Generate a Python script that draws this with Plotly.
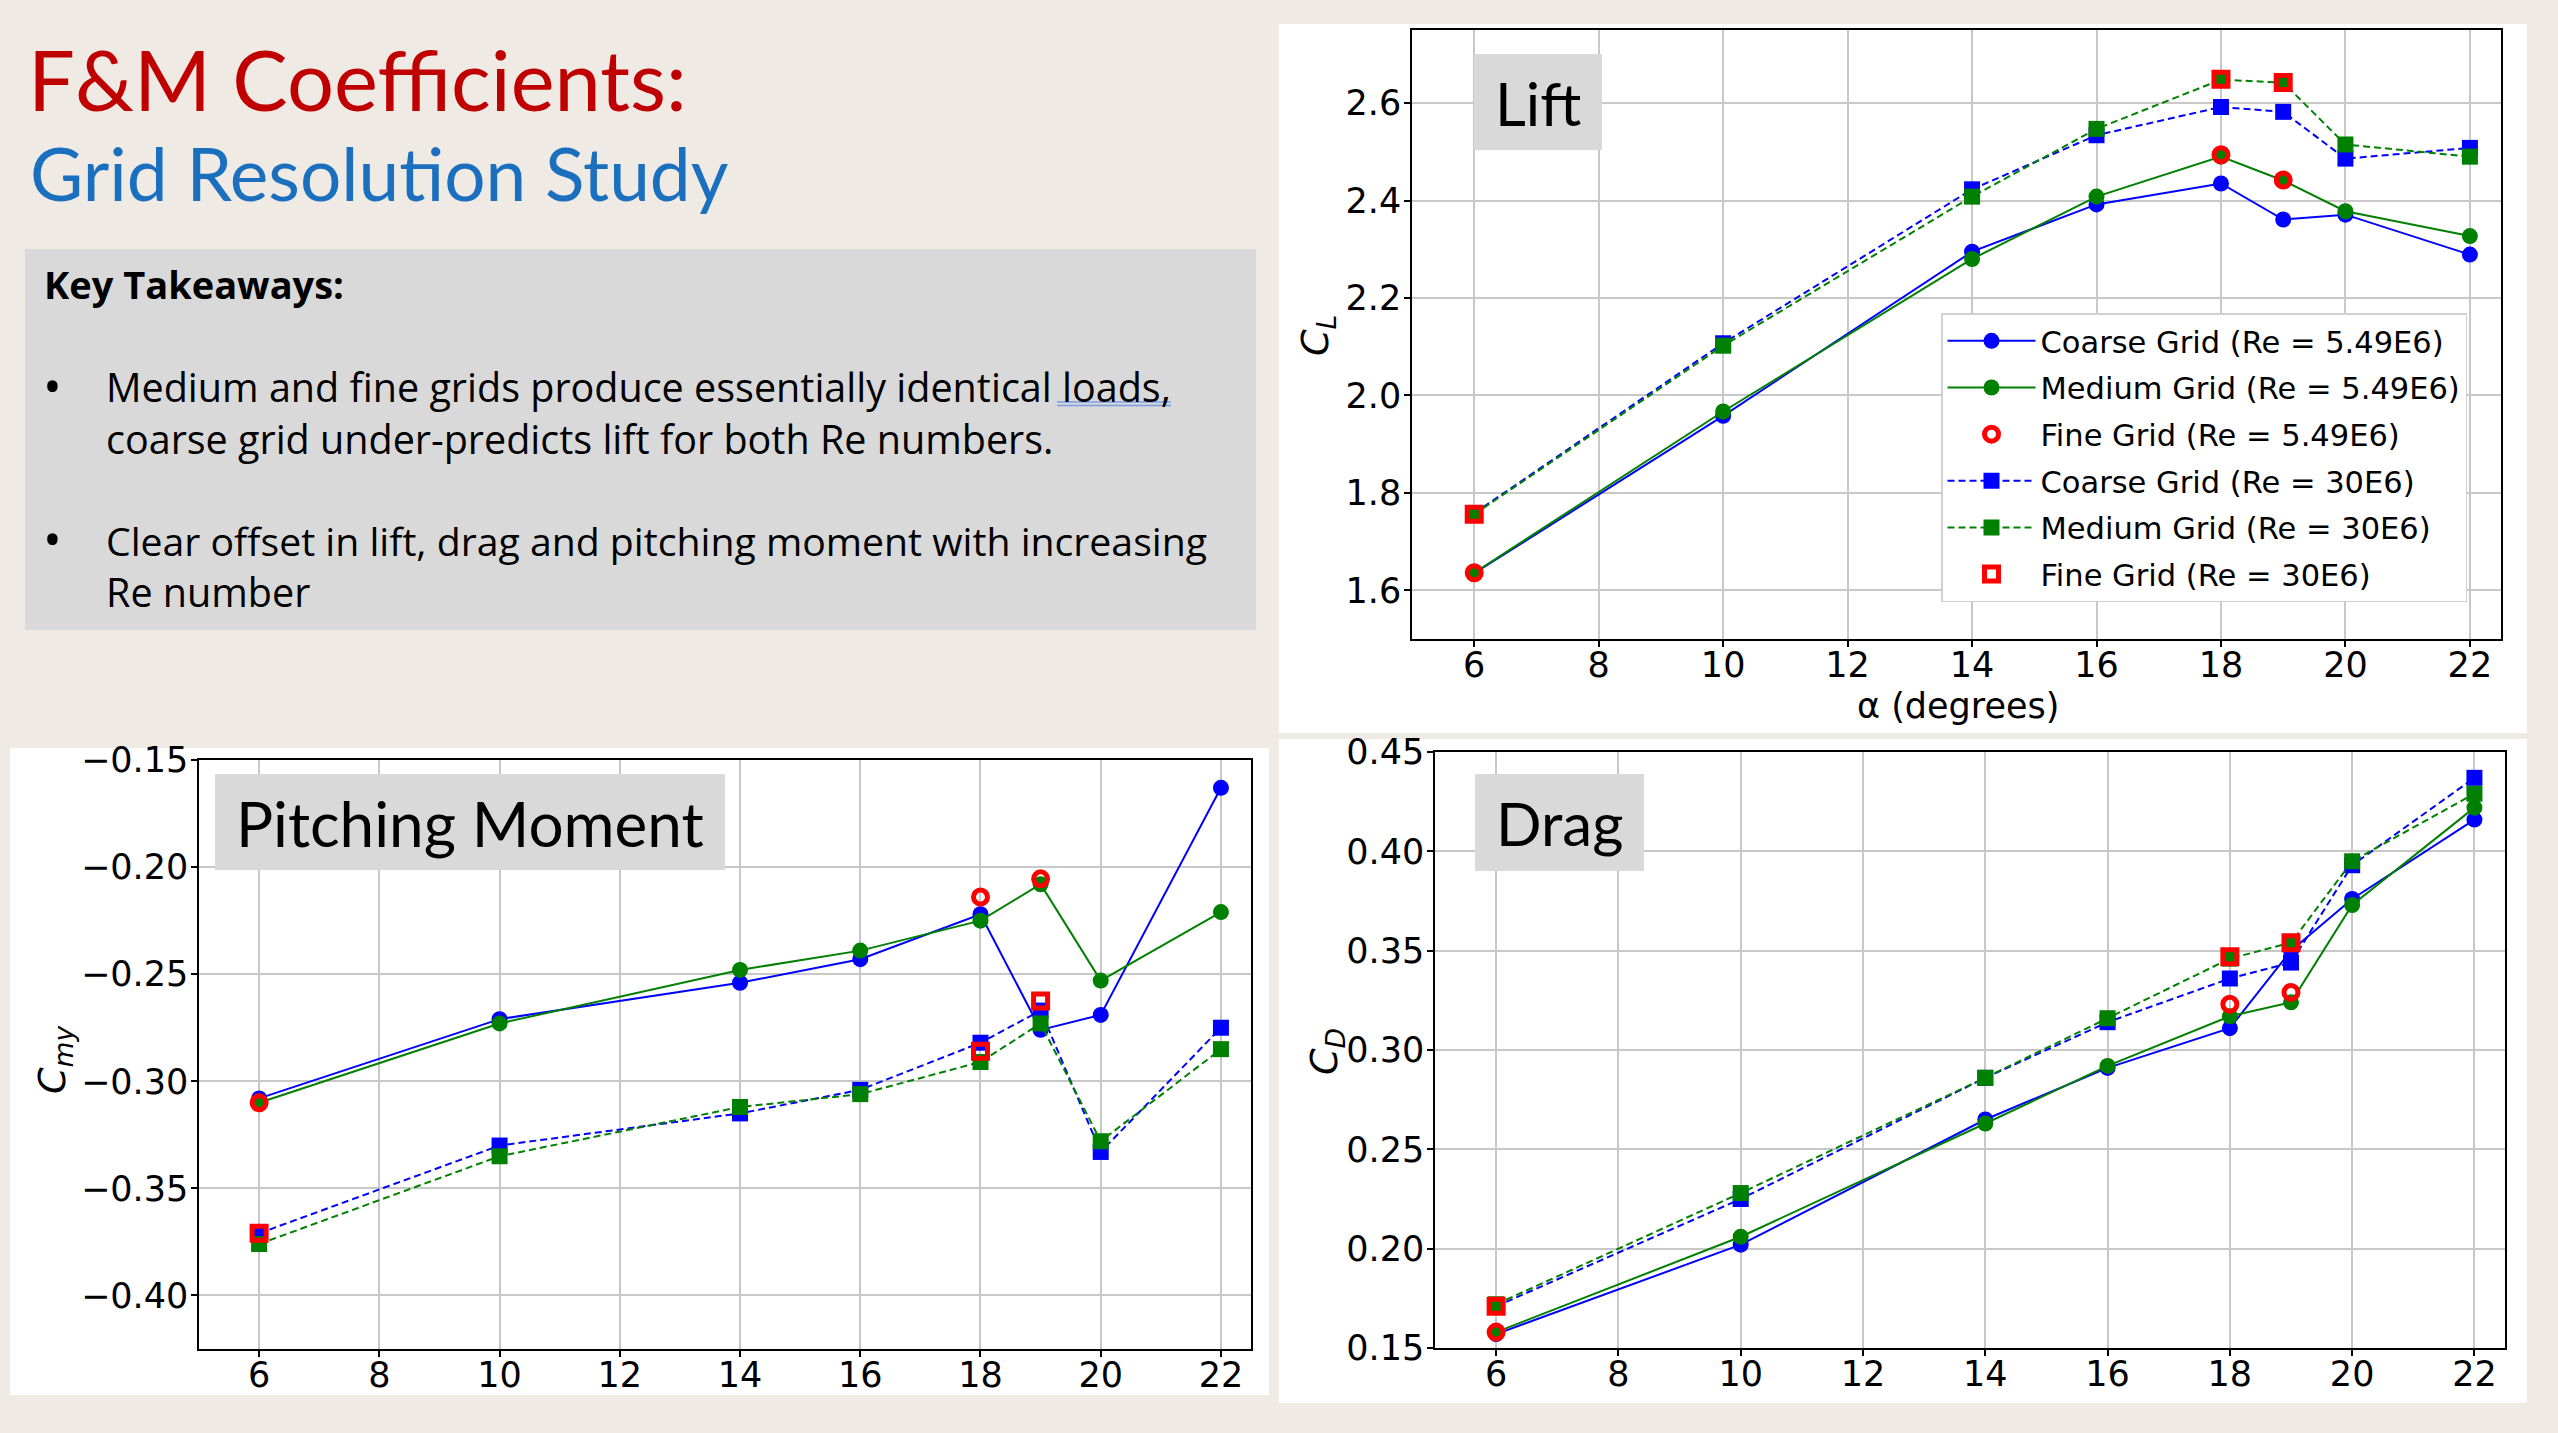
import plotly.graph_objects as go

# angle of attack (degrees)
alpha = [6, 10, 14, 16, 18, 19, 20, 22]
alpha_fine = [6, 18, 19]

series_names = [
    "Coarse Grid (Re = 5.49E6)",
    "Medium Grid (Re = 5.49E6)",
    "Fine Grid (Re = 5.49E6)",
    "Coarse Grid (Re = 30E6)",
    "Medium Grid (Re = 30E6)",
    "Fine Grid (Re = 30E6)",
]

# lift coefficient
cl_coarse_lo = [1.635, 1.958, 2.295, 2.392, 2.435, 2.361, 2.371, 2.289]
cl_medium_lo = [1.636, 1.967, 2.280, 2.408, 2.490, 2.441, 2.378, 2.327]
cl_fine_lo = [1.636, 2.494, 2.442]
cl_coarse_hi = [1.758, 2.107, 2.423, 2.534, 2.592, 2.582, 2.486, 2.508]
cl_medium_hi = [1.756, 2.102, 2.408, 2.547, 2.648, 2.642, 2.515, 2.490]
cl_fine_hi = [1.756, 2.649, 2.642]

# pitching moment coefficient
cm_coarse_lo = [-0.308, -0.271, -0.254, -0.243, -0.222, -0.276, -0.269, -0.163]
cm_medium_lo = [-0.310, -0.273, -0.248, -0.239, -0.225, -0.208, -0.253, -0.221]
cm_fine_lo = [-0.310, -0.214, -0.2055]
cm_coarse_hi = [-0.371, -0.330, -0.315, -0.304, -0.282, -0.267, -0.333, -0.275]
cm_medium_hi = [-0.376, -0.335, -0.312, -0.306, -0.291, -0.273, -0.328, -0.285]
cm_fine_hi = [-0.371, -0.286, -0.2625]

# drag coefficient
cd_coarse_lo = [0.157, 0.202, 0.265, 0.291, 0.311, 0.350, 0.376, 0.416]
cd_medium_lo = [0.158, 0.206, 0.263, 0.292, 0.317, 0.324, 0.373, 0.422]
cd_fine_lo = [0.158, 0.323, 0.329]
cd_coarse_hi = [0.171, 0.225, 0.286, 0.314, 0.336, 0.344, 0.393, 0.437]
cd_medium_hi = [0.172, 0.228, 0.286, 0.316, 0.346, 0.354, 0.395, 0.429]
cd_fine_hi = [0.171, 0.347, 0.354]

x_ticks = [6, 8, 10, 12, 14, 16, 18, 20, 22]
cl_ticks = [1.6, 1.8, 2.0, 2.2, 2.4, 2.6]
cm_ticks = [-0.40, -0.35, -0.30, -0.25, -0.20, -0.15]
cd_ticks = [0.15, 0.20, 0.25, 0.30, 0.35, 0.40, 0.45]

W, H = 2558, 1433
BG = "#F0EAE4"
BOX = "#D9D9D9"
PLOT_FONT = "DejaVu Sans, Verdana, sans-serif"
TITLE_FONT = "Lato, Noto Sans, sans-serif"
BODY_FONT = "Open Sans, Noto Sans, sans-serif"


def fx(p):
    return p / W


def fy(p):
    return 1 - p / H


# colour, symbol, dash, mode for each of the six series
styles = [
    ("blue", "circle", "solid", "lines+markers"),
    ("green", "circle", "solid", "lines+markers"),
    ("red", "circle-open", "solid", "markers"),
    ("blue", "square", "7px,4px", "lines+markers"),
    ("green", "square", "7px,4px", "lines+markers"),
    ("red", "square-open", "solid", "markers"),
]

panels = [
    ("x", "y", [cl_coarse_lo, cl_medium_lo, cl_fine_lo, cl_coarse_hi, cl_medium_hi, cl_fine_hi]),
    ("x2", "y2", [cm_coarse_lo, cm_medium_lo, cm_fine_lo, cm_coarse_hi, cm_medium_hi, cm_fine_hi]),
    ("x3", "y3", [cd_coarse_lo, cd_medium_lo, cd_fine_lo, cd_coarse_hi, cd_medium_hi, cd_fine_hi]),
]

fig = go.Figure()

for i, (xa, ya, series) in enumerate(panels):
    for j, values in enumerate(series):
        color, symbol, dash, mode = styles[j]
        fine = symbol.endswith("open")
        fig.add_trace(go.Scatter(
            x = alpha_fine if fine else alpha,
            y = values,
            xaxis = xa,
            yaxis = ya,
            name = series_names[j],
            legendgroup = series_names[j],
            showlegend = (i == 0),
            mode = mode,
            line = dict(color = color, width = 2, dash = dash),
            marker = dict(
                symbol = symbol,
                color = color,
                size = 14 if fine else 16,
                line = dict(color = color, width = 5 if fine else 0),
            ),
        ))

axis_common = dict(
    automargin = False,
    showgrid = True,
    gridcolor = "#C8C8C8",
    gridwidth = 1.5,
    showline = True,
    mirror = True,
    linecolor = "black",
    linewidth = 1.5,
    ticks = "outside",
    ticklen = 6,
    tickwidth = 1.5,
    tickcolor = "black",
    zeroline = False,
    tickfont = dict(family = PLOT_FONT, size = 35, color = "black"),
)
x_common = dict(range = [5, 22.5], tickvals = x_ticks, ticklabelstandoff = -12, **axis_common)
y_common = dict(tickformat = ".2f", ticklabelstandoff = -4, **axis_common)

fig.update_layout(
    width = W,
    height = H,
    autosize = False,
    margin = dict(l = 0, r = 0, t = 0, b = 0, pad = 0, autoexpand = False),
    paper_bgcolor = BG,
    plot_bgcolor = "white",
    font = dict(family = PLOT_FONT, color = "black"),
    xaxis = dict(domain = [fx(1412), fx(2501)], anchor = "y", **x_common),
    yaxis = dict(domain = [fy(639), fy(30)], range = [1.5, 2.75], tickvals = cl_ticks, anchor = "x", **y_common),
    xaxis2 = dict(domain = [fx(199), fx(1251)], anchor = "y2", **x_common),
    yaxis2 = dict(domain = [fy(1349), fy(760)], range = [-0.425, -0.15], tickvals = cm_ticks, anchor = "x2", **y_common),
    xaxis3 = dict(domain = [fx(1435), fx(2505)], anchor = "y3", **x_common),
    yaxis3 = dict(domain = [fy(1348), fy(752)], range = [0.15, 0.45], tickvals = cd_ticks, anchor = "x3", **y_common),
    legend = dict(
        x = fx(2467), y = fy(602),
        xanchor = "right", yanchor = "bottom",
        bgcolor = "white",
        bordercolor = "#D0D0D0",
        borderwidth = 1.5,
        font = dict(family = PLOT_FONT, size = 30.5),
        tracegroupgap = 4,
        itemwidth = 88,
    ),
)
fig.update_yaxes(tickformat = ".1f", selector = dict(anchor = "x"))

shapes = [
    # white panels behind the three charts
    dict(type = "rect", xref = "paper", yref = "paper", layer = "below", line_width = 0, fillcolor = "white",
         x0 = fx(1279), x1 = fx(2527), y0 = fy(733), y1 = fy(24)),
    dict(type = "rect", xref = "paper", yref = "paper", layer = "below", line_width = 0, fillcolor = "white",
         x0 = fx(10), x1 = fx(1269), y0 = fy(1395), y1 = fy(748)),
    dict(type = "rect", xref = "paper", yref = "paper", layer = "below", line_width = 0, fillcolor = "white",
         x0 = fx(1279), x1 = fx(2527), y0 = fy(1403), y1 = fy(739)),
    # key takeaways box
    dict(type = "rect", xref = "paper", yref = "paper", layer = "below", line_width = 0, fillcolor = BOX,
         x0 = fx(25), x1 = fx(1256), y0 = fy(630), y1 = fy(249)),
    # chart label boxes
    dict(type = "rect", xref = "paper", yref = "paper", line_width = 0, fillcolor = BOX,
         x0 = fx(1474), x1 = fx(1602), y0 = fy(150), y1 = fy(54)),
    dict(type = "rect", xref = "paper", yref = "paper", line_width = 0, fillcolor = BOX,
         x0 = fx(215), x1 = fx(725), y0 = fy(870), y1 = fy(774)),
    dict(type = "rect", xref = "paper", yref = "paper", line_width = 0, fillcolor = BOX,
         x0 = fx(1475), x1 = fx(1644), y0 = fy(871), y1 = fy(774)),
    # spell-check double underline under "loads,"
    dict(type = "line", xref = "paper", yref = "paper", line = dict(color = "#7A9BE2", width = 1.5),
         x0 = fx(1057), x1 = fx(1171), y0 = fy(402), y1 = fy(402)),
    dict(type = "line", xref = "paper", yref = "paper", line = dict(color = "#7A9BE2", width = 1.5),
         x0 = fx(1057), x1 = fx(1171), y0 = fy(405.5), y1 = fy(405.5)),
]


def text(label, x, y, size, color = "black", family = BODY_FONT, xanchor = "left", angle = 0):
    return dict(
        text = label, x = fx(x), y = fy(y), xref = "paper", yref = "paper",
        xanchor = xanchor, yanchor = "middle", showarrow = False, textangle = angle,
        font = dict(family = family, size = size, color = color),
    )


annotations = [
    text("F&M Coefficients:", 26, 79, 83, color = "#C00000", family = TITLE_FONT),
    text("Grid Resolution Study", 28, 173, 73, color = "#1A6FBF", family = TITLE_FONT),
    text("<b>Key Takeaways:</b>", 42, 284, 38),
    text("\u2022", 41, 385, 50),
    text("Medium and fine grids produce essentially identical loads,", 104, 387, 39.5),
    text("coarse grid under-predicts lift for both Re numbers.", 104, 439, 39.5),
    text("\u2022", 41, 538, 50),
    text("Clear offset in lift, drag and pitching moment with increasing", 104, 540, 39.2),
    text("Re number", 104, 592, 39.5),
    text("Lift", 1538, 103, 60, family = TITLE_FONT, xanchor = "center"),
    text("Pitching Moment", 470, 823, 62, family = TITLE_FONT, xanchor = "center"),
    text("Drag", 1559, 823, 60, family = TITLE_FONT, xanchor = "center"),
    text("\u03b1 (degrees)", 1958, 706, 35, family = PLOT_FONT, xanchor = "center"),
    text("<i>C</i><sub><i>L</i></sub>", 1318, 336, 38, family = PLOT_FONT, xanchor = "center", angle = -90),
    text("<i>C</i><sub><i>my</i></sub>", 54, 1060, 38, family = PLOT_FONT, xanchor = "center", angle = -90),
    text("<i>C</i><sub><i>D</i></sub>", 1326, 1052, 38, family = PLOT_FONT, xanchor = "center", angle = -90),
]

fig.update_layout(shapes = shapes, annotations = annotations)

fig.write_html(
    "out.html",
    config = {"displayModeBar": False},
    post_script = "document.body.style.margin = '0';",
)
